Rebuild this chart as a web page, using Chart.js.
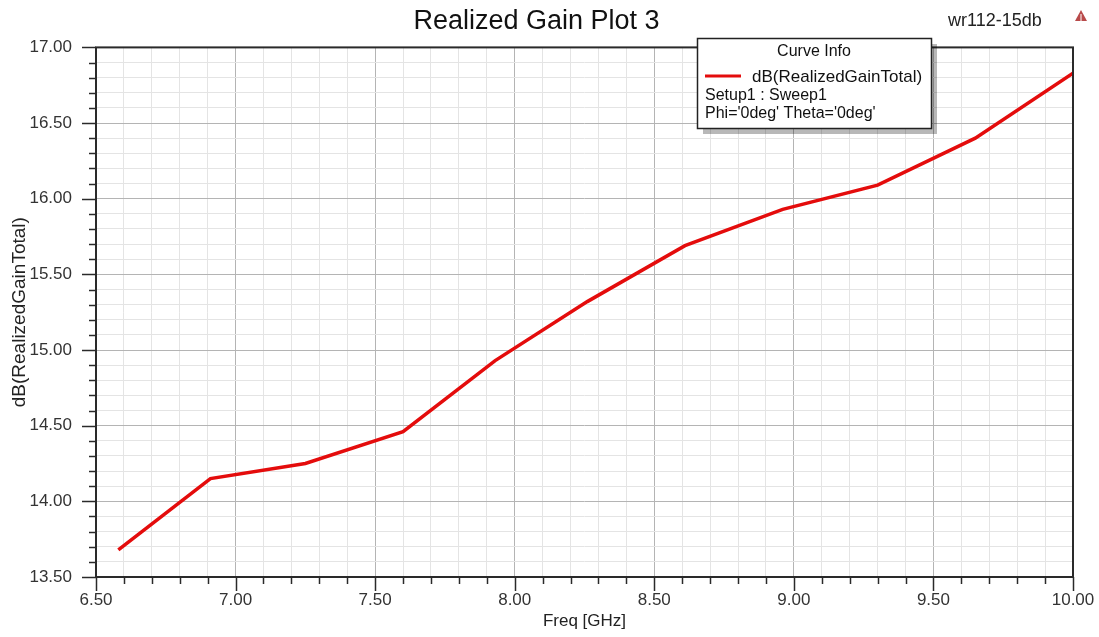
<!DOCTYPE html>
<html>
<head>
<meta charset="utf-8">
<script src="https://cdn.jsdelivr.net/npm/chart.js@4/dist/chart.umd.min.js"></script>
<style>
html,body{margin:0;padding:0;background:#fff;}
#wrap{width:1099px;height:637px;position:relative;}
</style>
</head>
<body>
<div id="wrap"><canvas id="c" width="1099" height="637"></canvas></div>
<script>
// ---- data ----
const freqs = [6.58, 6.91, 7.25, 7.60, 7.93, 8.26, 8.61, 8.96, 9.30, 9.65, 10.00];
const gains = [13.68, 14.15, 14.25, 14.46, 14.93, 15.32, 15.69, 15.93, 16.09, 16.40, 16.83];
const seriesName = 'dB(RealizedGainTotal)';
const chartTitle = 'Realized Gain Plot 3';
const projectName = 'wr112-15db';
const legendTitle = 'Curve Info';
const legendLines = ['Setup1 : Sweep1', "Phi='0deg' Theta='0deg'"];
const xTitle = 'Freq [GHz]';
const yTitle = 'dB(RealizedGainTotal)';
const xRange = [6.5, 10.0];
const yRange = [13.5, 17.0];

const FONT = '"Liberation Sans", Arial, sans-serif';
const isMajor = v => Math.abs(v * 2 - Math.round(v * 2)) < 1e-6;

const decor = {
  id: 'decor',
  afterDraw(chart) {
    const ctx = chart.ctx;
    const a = chart.chartArea;
    const xs = chart.scales.x, ys = chart.scales.y;
    ctx.save();
    // frame
    ctx.strokeStyle = '#2a2a2a';
    ctx.lineWidth = 2;
    ctx.strokeRect(a.left, a.top, a.right - a.left, a.bottom - a.top);
    // tick marks
    ctx.lineWidth = 1.5;
    xs.ticks.forEach(t => {
      const px = Math.round(xs.getPixelForValue(t.value)) + 0.5;
      const len = isMajor(t.value) ? 14 : 7;
      ctx.beginPath(); ctx.moveTo(px, a.bottom); ctx.lineTo(px, a.bottom + len); ctx.stroke();
    });
    ys.ticks.forEach(t => {
      const py = Math.round(ys.getPixelForValue(t.value)) + 0.5;
      const len = isMajor(t.value) ? 14 : 7;
      ctx.beginPath(); ctx.moveTo(a.left, py); ctx.lineTo(a.left - len, py); ctx.stroke();
    });
    // project name
    ctx.fillStyle = '#222';
    ctx.font = '18px ' + FONT;
    ctx.textAlign = 'left';
    ctx.textBaseline = 'middle';
    ctx.fillText(projectName, 948, 21);
    // small logo triangle
    ctx.fillStyle = '#b84a4a';
    ctx.beginPath(); ctx.moveTo(1081, 10); ctx.lineTo(1087, 21); ctx.lineTo(1075, 21); ctx.closePath(); ctx.fill();
    ctx.fillStyle = '#fff';
    ctx.fillRect(1080.5, 14, 1, 7);
    // legend box
    const bx = 697, by = 38, bw = 234, bh = 90;
    ctx.fillStyle = 'rgba(0,0,0,0.28)';
    ctx.fillRect(bx + 6, by + 6, bw, bh);
    ctx.fillStyle = '#fff';
    ctx.fillRect(bx, by, bw, bh);
    ctx.strokeStyle = '#222';
    ctx.lineWidth = 1.5;
    ctx.strokeRect(bx + 0.5, by + 0.5, bw, bh);
    ctx.fillStyle = '#111';
    ctx.font = '16px ' + FONT;
    ctx.textAlign = 'center';
    ctx.fillText(legendTitle, bx + bw / 2, 52);
    ctx.strokeStyle = chart.data.datasets[0].borderColor;
    ctx.lineWidth = 3;
    ctx.beginPath(); ctx.moveTo(705, 76); ctx.lineTo(741, 76); ctx.stroke();
    ctx.font = '17px ' + FONT;
    ctx.textAlign = 'left';
    ctx.fillText(chart.data.datasets[0].label, 752, 77);
    ctx.font = '16px ' + FONT;
    ctx.fillText(legendLines[0], 705, 96);
    ctx.fillText(legendLines[1], 705, 114);
    ctx.restore();
  }
};

new Chart(document.getElementById('c'), {
  type: 'line',
  data: {
    datasets: [{
      label: seriesName,
      data: freqs.map((f, i) => ({ x: f, y: gains[i] })),
      borderColor: 'rgb(228,12,12)',
      borderWidth: 3.5,
      pointRadius: 0,
      tension: 0,
      fill: false
    }]
  },
  options: {
    responsive: false,
    animation: false,
    layout: { padding: { left: 0, right: 26, top: 0, bottom: 0 } },
    plugins: {
      legend: { display: false },
      tooltip: { enabled: false },
      title: {
        display: true,
        text: chartTitle,
        color: '#111',
        font: { family: FONT, size: 27, weight: 'normal' },
        padding: { top: 5, bottom: 10 }
      }
    },
    scales: {
      x: {
        type: 'linear',
        min: xRange[0], max: xRange[1],
        afterFit: s => { s.height = 60; s.paddingLeft = 0; s.paddingRight = 0; },
        ticks: {
          stepSize: 0.1,
          autoSkip: false,
          maxRotation: 0,
          padding: 13,
          color: '#333',
          font: { family: FONT, size: 17 },
          callback: v => isMajor(v) ? Number(v).toFixed(2) : ''
        },
        grid: {
          drawTicks: false,
          color: c => isMajor(c.tick.value) ? '#b4b4b4' : '#e4e4e4',
          lineWidth: 1
        },
        border: { display: false },
        title: {
          display: true, text: xTitle, color: '#222',
          font: { family: FONT, size: 17 },
          padding: { top: 0, bottom: 5 }
        }
      },
      y: {
        type: 'linear',
        min: yRange[0], max: yRange[1],
        afterFit: s => { s.width = 96; },
        ticks: {
          stepSize: 0.1,
          autoSkip: false,
          padding: 24,
          color: '#333',
          font: { family: FONT, size: 17 },
          callback: v => isMajor(v) ? Number(v).toFixed(2) : ''
        },
        grid: {
          drawTicks: false,
          color: c => isMajor(c.tick.value) ? '#b4b4b4' : '#e4e4e4',
          lineWidth: 1
        },
        border: { display: false },
        title: {
          display: true, text: yTitle, color: '#222',
          font: { family: FONT, size: 19 },
          padding: { top: 8, bottom: 0 }
        }
      }
    }
  },
  plugins: [decor]
});
</script>
</body>
</html>
